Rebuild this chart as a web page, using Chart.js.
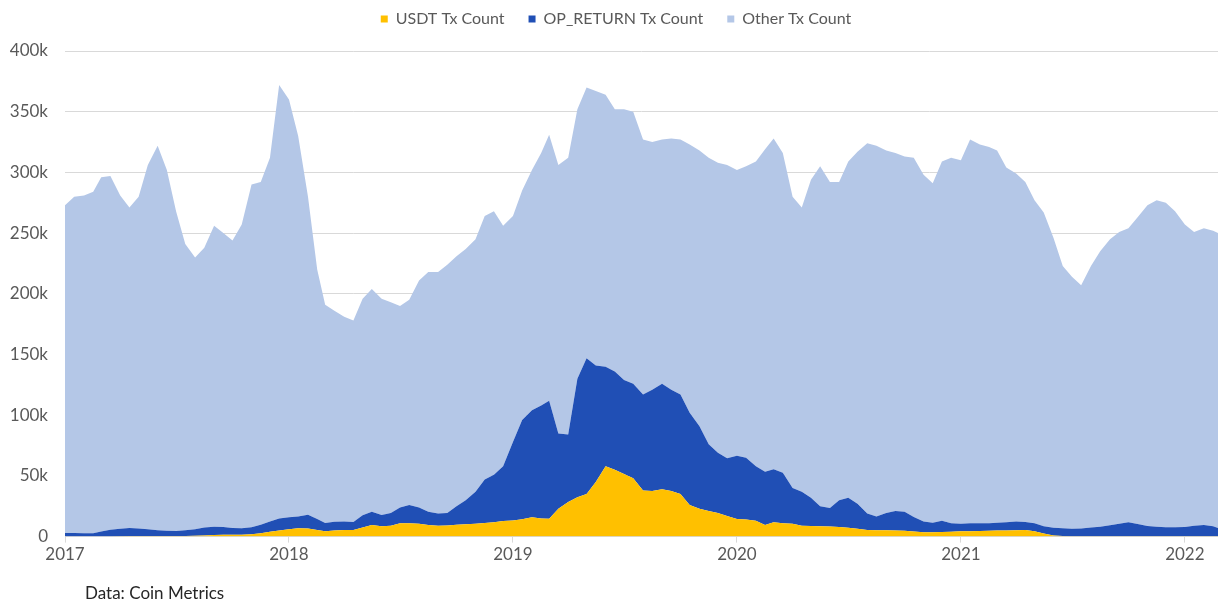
<!DOCTYPE html>
<html>
<head>
<meta charset="utf-8">
<script src="https://cdn.jsdelivr.net/npm/chart.js@4.4.1/dist/chart.umd.min.js"></script>
<style>
  html, body { margin: 0; padding: 0; background: #fff; }
  #wrap { position: relative; width: 1218px; height: 604px; }
  #source { position: absolute; left: 85px; top: 582px; font: 17px Lato, sans-serif; color: #262626; }
</style>
</head>
<body>
<div id="wrap">
  <canvas id="txChart" width="1218" height="604"></canvas>
  <div id="source">Data: Coin Metrics</div>
</div>
<script>
// half-month samples, values in thousands of transactions per day
const dates = [
  '2017-01-01','2017-01-16','2017-02-01','2017-02-16','2017-03-01','2017-03-16','2017-04-01','2017-04-16',
  '2017-05-01','2017-05-16','2017-06-01','2017-06-16','2017-07-01','2017-07-16','2017-08-01','2017-08-16',
  '2017-09-01','2017-09-16','2017-10-01','2017-10-16','2017-11-01','2017-11-16','2017-12-01','2017-12-16',
  '2018-01-01','2018-01-16','2018-02-01','2018-02-16','2018-03-01','2018-03-16','2018-04-01','2018-04-16',
  '2018-05-01','2018-05-16','2018-06-01','2018-06-16','2018-07-01','2018-07-16','2018-08-01','2018-08-16',
  '2018-09-01','2018-09-16','2018-10-01','2018-10-16','2018-11-01','2018-11-16','2018-12-01','2018-12-16',
  '2019-01-01','2019-01-16','2019-02-01','2019-02-16','2019-03-01','2019-03-16','2019-04-01','2019-04-16',
  '2019-05-01','2019-05-16','2019-06-01','2019-06-16','2019-07-01','2019-07-16','2019-08-01','2019-08-16',
  '2019-09-01','2019-09-16','2019-10-01','2019-10-16','2019-11-01','2019-11-16','2019-12-01','2019-12-16',
  '2020-01-01','2020-01-16','2020-02-01','2020-02-16','2020-03-01','2020-03-16','2020-04-01','2020-04-16',
  '2020-05-01','2020-05-16','2020-06-01','2020-06-16','2020-07-01','2020-07-16','2020-08-01','2020-08-16',
  '2020-09-01','2020-09-16','2020-10-01','2020-10-16','2020-11-01','2020-11-16','2020-12-01','2020-12-16',
  '2021-01-01','2021-01-16','2021-02-01','2021-02-16','2021-03-01','2021-03-16','2021-04-01','2021-04-16',
  '2021-05-01','2021-05-16','2021-06-01','2021-06-16','2021-07-01','2021-07-16','2021-08-01','2021-08-16',
  '2021-09-01','2021-09-16','2021-10-01','2021-10-16','2021-11-01','2021-11-16','2021-12-01','2021-12-16',
  '2022-01-01','2022-01-16','2022-02-01','2022-02-16','2022-02-24'
];

const usdt = [
  0, 0, 0, 0, 0, 0, 0.3, 0.5, 0.5, 0.5, 0.5, 0.5, 0.5, 0.5, 0.6, 1.0,
  1.4, 1.5, 1.5, 1.6, 2.0, 2.8, 4.0, 5.0, 6.0, 6.8, 6.6, 5.5, 4.5, 5.0, 5.5, 5.5,
  7.5, 9.5, 8.5, 9.0, 11.0, 11.0, 10.5, 9.5, 9.0, 9.2, 9.7, 10.2, 10.6, 11.3, 11.8, 12.8,
  13.3, 14.2, 16.0, 15.0, 14.8, 23.0, 28.5, 32.5, 35.0, 45.0, 58.0, 55.0, 51.5, 48.0, 38.0, 37.5,
  39.0, 37.5, 35.0, 26.0, 23.0, 21.0, 19.5, 17.0, 14.5, 14.0, 13.0, 9.5, 11.8, 11.0, 10.5, 9.0,
  8.8, 8.5, 8.3, 8.0, 7.2, 6.5, 5.5, 5.3, 5.2, 5.0, 4.8, 4.2, 3.5, 3.5, 3.8, 4.0,
  4.4, 4.5, 4.7, 4.8, 5.0, 5.0, 5.3, 5.5, 4.5, 2.5, 1.0, 0.5, 0.3, 0.3, 0.3, 0.3,
  0.3, 0.3, 0.3, 0.3, 0.3, 0.3, 0.3, 0.3, 0.3, 0.3, 0.3, 0.3, 0.3
];

const opReturn = [
  3.0, 3.0, 2.8, 2.7, 4.2, 5.6, 6.2, 6.5, 6.2, 5.5, 4.7, 4.3, 4.2, 4.7, 5.4, 6.5,
  6.8, 6.5, 5.5, 5.3, 5.8, 7.0, 8.5, 10.0, 10.0, 9.7, 11.4, 9.1, 6.7, 7.3, 6.9, 6.5,
  10.0, 11.0, 9.3, 10.5, 13.0, 15.0, 13.5, 11.0, 10.0, 10.3, 15.3, 19.8, 26.4, 35.7, 39.2, 45.2,
  64.7, 81.8, 88.0, 93.0, 97.2, 62.0, 55.5, 97.5, 112.0, 96.0, 82.0, 81.0, 77.5, 78.0, 79.0, 83.5,
  87.0, 83.5, 82.0, 76.0, 68.0, 55.0, 49.5, 47.5, 52.0, 51.0, 45.0, 44.0, 43.7, 41.5, 29.5, 28.0,
  23.2, 16.5, 15.2, 22.0, 24.8, 20.5, 13.5, 11.2, 14.3, 16.0, 15.7, 12.0, 9.0, 8.0, 9.2, 7.0,
  6.1, 6.5, 6.3, 6.2, 6.5, 6.8, 7.1, 6.5, 6.5, 6.0, 6.3, 6.3, 6.1, 6.4, 7.1, 7.8,
  9.0, 10.2, 11.5, 10.0, 8.5, 7.8, 7.5, 7.4, 7.6, 8.6, 9.2, 8.2, 6.8
];

const other = [
  270.0, 277.0, 278.2, 281.3, 291.8, 291.4, 274.5, 264.0, 273.3, 300.0, 316.8, 297.2, 263.3, 235.8, 224.0, 230.5,
  247.8, 242.0, 237.0, 250.1, 282.2, 282.2, 299.5, 357.0, 344.0, 313.5, 262.0, 205.4, 179.8, 173.7, 168.6, 166.0,
  178.5, 183.5, 178.2, 173.5, 166.0, 169.0, 187.0, 197.5, 199.0, 204.5, 206.0, 207.0, 208.0, 217.0, 217.0, 198.0,
  186.0, 189.0, 198.0, 208.0, 219.0, 221.0, 228.0, 222.0, 223.0, 226.0, 224.0, 216.0, 223.0, 224.0, 210.0, 204.0,
  201.0, 207.0, 210.0, 221.0, 227.0, 236.0, 239.0, 241.5, 235.5, 240.0, 251.0, 265.5, 272.5, 263.5, 240.0, 234.0,
  262.0, 280.0, 268.5, 262.0, 277.0, 290.0, 305.0, 305.5, 298.5, 295.0, 292.5, 295.8, 285.5, 279.5, 296.0, 301.0,
  299.5, 316.0, 312.0, 310.0, 306.5, 292.2, 286.6, 280.0, 266.0, 258.5, 238.7, 216.2, 207.6, 200.3, 215.6, 226.9,
  235.7, 240.5, 242.2, 252.7, 264.2, 268.9, 267.2, 260.3, 249.1, 242.1, 244.5, 243.5, 242.9
];

const yearTicks = [2017, 2018, 2019, 2020, 2021, 2022];
const yTicks = [0, 50, 100, 150, 200, 250, 300, 350, 400];

// date string -> decimal year for the linear x scale
function toYear(s) {
  const d = new Date(s + 'T00:00:00Z');
  const y = d.getUTCFullYear();
  const start = Date.UTC(y, 0, 1);
  const end = Date.UTC(y + 1, 0, 1);
  return y + (d - start) / (end - start);
}
const xs = dates.map(toYear);
const pts = arr => arr.map((v, i) => ({ x: xs[i], y: v }));

const tickColor = '#595959';
const gridColor = '#d9d9d9';

// keep the wide legend spacing but make the legend box shorter and nudge it
const tightLegend = {
  id: 'tightLegend',
  beforeLayout(chart) {
    const lg = chart.legend;
    if (lg && !lg._trimmed) {
      const fit = lg.fit;
      lg.fit = function () { fit.call(this); this.height -= 6; };
      lg._trimmed = true;
    }
  },
  afterLayout(chart) {
    const lg = chart.legend;
    lg.top -= 20;
    lg.bottom -= 20;
    lg.left += 3;
    lg.right += 3;
  }
};

new Chart(document.getElementById('txChart'), {
  type: 'line',
  data: {
    datasets: [
      { label: 'USDT Tx Count', data: pts(usdt), backgroundColor: '#ffc000', fill: 'origin' },
      { label: 'OP_RETURN Tx Count', data: pts(opReturn), backgroundColor: '#204fb5', fill: '-1' },
      { label: 'Other Tx Count', data: pts(other), backgroundColor: '#b4c7e7', fill: '-1' }
    ]
  },
  plugins: [tightLegend],
  options: {
    responsive: false,
    animation: false,
    layout: { padding: { left: 8, right: 0, top: 7, bottom: 37 } },
    elements: {
      point: { radius: 0 },
      line: { borderWidth: 0, tension: 0 }
    },
    scales: {
      x: {
        type: 'linear',
        min: 2017,
        max: toYear('2022-02-24'),
        afterBuildTicks: axis => { axis.ticks = yearTicks.map(v => ({ value: v })); },
        grid: { drawOnChartArea: false, color: gridColor, tickLength: 6 },
        border: { color: gridColor },
        ticks: { color: tickColor, font: { family: 'Lato', size: 17 }, padding: 2, maxRotation: 0,
                 callback: v => String(v) }
      },
      y: {
        stacked: true,
        min: 0,
        max: 400,
        afterBuildTicks: axis => { axis.ticks = yTicks.map(v => ({ value: v })); },
        afterFit: axis => { axis.width = 57; },
        grid: { color: gridColor, drawTicks: false },
        border: { display: false },
        ticks: { color: tickColor, font: { family: 'Lato', size: 17 }, padding: 17,
                 callback: v => v === 0 ? '0' : v + 'k' }
      }
    },
    plugins: {
      legend: {
        position: 'top',
        labels: {
          color: tickColor,
          font: { family: 'Lato', size: 16 },
          boxWidth: 7,
          boxHeight: 7,
          padding: 24
        }
      },
      tooltip: { enabled: false }
    }
  }
});
</script>
</body>
</html>
